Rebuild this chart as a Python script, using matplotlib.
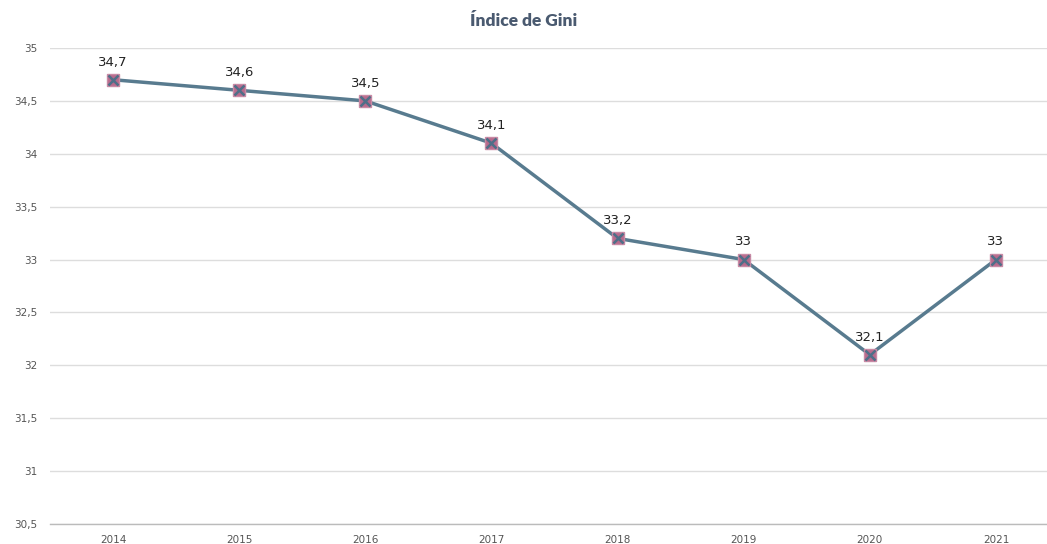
import matplotlib
matplotlib.use("Agg")
import matplotlib.pyplot as plt

years = ["2014", "2015", "2016", "2017", "2018", "2019", "2020", "2021"]
gini = [34.7, 34.6, 34.5, 34.1, 33.2, 33.0, 32.1, 33.0]
yticks = [30.5, 31, 31.5, 32, 32.5, 33, 33.5, 34, 34.5, 35]

def fmt(v):
    s = ("%g" % v)
    return s.replace(".", ",")

fig = plt.figure(figsize=(10.47, 5.44), dpi=100)
left = 50 / 1047
width = (1059 - 50) / 1047
bottom = (544 - 524) / 544
top = 1 - 48 / 544
ax = fig.add_axes([left, bottom, width, top - bottom])

x = list(range(len(years)))
line_col = "#587b8f"
ax.plot(x, gini, color=line_col, lw=2.5, zorder=3)
ax.plot(x, gini, ls="none", marker="s", ms=9, mfc="#b86a8c", mec="#c88aa5", mew=1, zorder=4)
ax.plot(x, gini, ls="none", marker="x", ms=7, mec="#4f6f88", mew=1.8, zorder=5)

for xi, v in zip(x, gini):
    ax.annotate(fmt(v), (xi, v), xytext=(0, 8), textcoords="offset points",
                ha="center", va="bottom", fontsize=9.5, color="#222222", family="DejaVu Sans")

ax.set_xlim(-0.5, len(years) - 0.5)
ax.set_ylim(30.5, 35)
ax.set_yticks(yticks)
ax.set_yticklabels([fmt(t) for t in yticks])
ax.set_xticks(x)
ax.set_xticklabels(years)
ax.tick_params(axis="both", length=0, labelsize=7.5, colors="#555555")
ax.tick_params(axis="y", pad=9)
ax.tick_params(axis="x", pad=8)
ax.grid(axis="y", color="#dddddd", lw=1)
ax.set_axisbelow(True)
for s in ["top", "right", "left"]:
    ax.spines[s].set_visible(False)
ax.spines["bottom"].set_color("#bbbbbb")
ax.spines["bottom"].set_linewidth(1)

fig.text(0.5, 1 - 21 / 544, "Índice de Gini", ha="center", va="center",
         fontsize=12.5, fontweight="heavy", color="#4a5a70", family="Lato")

fig.savefig("out.png", dpi=100)
